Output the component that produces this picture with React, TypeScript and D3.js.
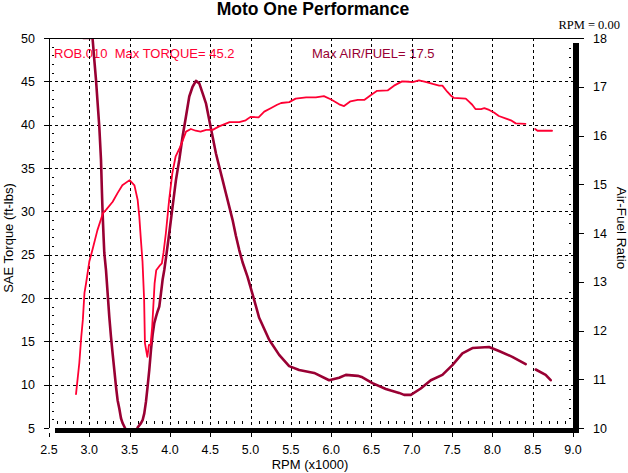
import React from "react";
import * as d3 from "d3";

const W = 628;
const H = 473;

const chartTitle = "Moto One Performance";
const leftAxisTitle = "SAE Torque (ft-lbs)";
const rightAxisTitle = "Air-Fuel Ratio";
const bottomAxisTitle = "RPM (x1000)";
const cursorText = "RPM = 0.00";
const torqueNote = "ROB.010  Max TORQUE= 45.2";
const afrNote = "Max AIR/FUEL= 17.5";

const xTicks = [2.5, 3.0, 3.5, 4.0, 4.5, 5.0, 5.5, 6.0, 6.5, 7.0, 7.5, 8.0, 8.5, 9.0];
const leftTicks = [5, 10, 15, 20, 25, 30, 35, 40, 45, 50];
const rightTicks = [10, 11, 12, 13, 14, 15, 16, 17, 18];

// [rpm x1000, SAE torque ft-lbs]
const torqueCurve: [number, number | null][] = [
  [2.835, 8.9], [2.876, 12.5], [2.9, 15.5], [2.92, 17.5], [2.94, 20.6], [2.96, 21.7],
  [3.0, 24.2], [3.04, 25.6], [3.1, 27.8], [3.17, 29.8], [3.21, 30.2], [3.29, 31.1],
  [3.35, 32.1], [3.41, 33.0], [3.5, 33.6], [3.56, 33.0], [3.6, 31.3], [3.62, 29.4],
  [3.64, 26.7], [3.66, 24.2], [3.68, 19.8], [3.69, 14.8], [3.72, 13.2], [3.74, 14.6],
  [3.76, 14.6], [3.78, 16.7], [3.81, 21.7], [3.83, 23.2], [3.87, 23.7], [3.9, 24.0],
  [3.92, 25.2], [3.95, 27.5], [3.99, 31.3], [4.03, 34.4], [4.07, 36.3], [4.12, 37.3],
  [4.16, 38.2], [4.2, 39.2], [4.26, 39.5], [4.32, 39.3], [4.38, 39.2], [4.45, 39.4],
  [4.53, 39.4], [4.61, 39.8], [4.74, 40.3], [4.86, 40.3], [4.94, 40.5], [5.0, 40.9],
  [5.1, 40.85], [5.17, 41.5], [5.25, 41.9], [5.33, 42.3], [5.38, 42.5], [5.48, 42.6],
  [5.56, 43.0], [5.69, 43.15], [5.81, 43.15], [5.91, 43.3], [6.0, 42.9], [6.1, 42.35],
  [6.16, 42.15], [6.24, 42.7], [6.33, 42.85], [6.41, 42.85], [6.49, 43.4], [6.57, 43.9],
  [6.7, 43.95], [6.78, 44.5], [6.88, 45.0], [6.97, 44.95], [7.01, 44.9], [7.09, 45.1],
  [7.17, 44.95], [7.26, 44.7], [7.34, 44.5], [7.38, 44.5], [7.44, 43.8], [7.48, 43.4],
  [7.52, 43.1], [7.67, 43.0], [7.71, 42.65], [7.75, 42.3], [7.79, 41.8], [7.86, 41.8],
  [7.9, 41.9], [7.96, 41.7], [8.02, 41.4], [8.08, 41.0], [8.17, 40.7], [8.23, 40.5],
  [8.29, 40.15], [8.41, 40.1], [8.47, null], [8.53, 39.5], [8.56, 39.3], [8.74, 39.3],
];

// [rpm x1000, air-fuel ratio]
const afrCurve: [number, number | null][] = [
  [2.926, 18.6], [3.04, 18.1], [3.062, 17.55], [3.083, 17.14], [3.103, 16.67], [3.124, 16.18],
  [3.145, 15.5], [3.157, 14.82], [3.165, 14.41], [3.177, 13.92], [3.186, 13.59], [3.207, 13.24],
  [3.227, 12.77], [3.248, 12.28], [3.269, 11.87], [3.289, 11.53], [3.31, 11.19], [3.331, 10.85],
  [3.351, 10.57], [3.372, 10.4], [3.393, 10.2], [3.413, 10.1], [3.434, 10.03], [3.5, 9.8],
  [3.58, 9.9], [3.599, 10.01], [3.641, 10.1], [3.661, 10.16], [3.682, 10.3], [3.703, 10.54],
  [3.723, 10.85], [3.744, 11.19], [3.765, 11.6], [3.785, 11.91], [3.806, 12.15], [3.827, 12.28],
  [3.847, 12.39], [3.868, 12.49], [3.889, 12.76], [3.909, 13.04], [3.93, 13.24], [3.951, 13.49],
  [3.992, 14.0], [4.033, 14.54], [4.075, 15.09], [4.116, 15.5], [4.157, 15.98], [4.199, 16.39],
  [4.24, 16.8], [4.281, 17.0], [4.323, 17.12], [4.364, 17.07], [4.405, 16.87], [4.447, 16.66],
  [4.488, 16.32], [4.529, 15.98], [4.571, 15.63], [4.612, 15.36], [4.653, 15.09], [4.695, 14.81],
  [4.736, 14.54], [4.777, 14.27], [4.819, 13.94], [4.86, 13.65], [4.901, 13.4], [4.963, 13.1],
  [5.045, 12.63], [5.107, 12.26], [5.231, 11.81], [5.355, 11.5], [5.479, 11.27], [5.603, 11.19],
  [5.789, 11.13], [5.975, 10.98], [6.099, 11.03], [6.182, 11.09], [6.33, 11.07], [6.388, 11.04],
  [6.512, 10.92], [6.678, 10.8], [6.843, 10.72], [6.905, 10.68], [6.988, 10.68], [7.112, 10.81],
  [7.236, 10.98], [7.38, 11.09], [7.504, 11.29], [7.628, 11.53], [7.752, 11.64], [7.958, 11.66],
  [8.082, 11.58], [8.247, 11.46], [8.413, 11.31], [8.47, null], [8.537, 11.2], [8.661, 11.09],
  [8.723, 10.98],
];

const torqueColor = "#ff0033";
const afrColor = "#990033";
const font = "'Liberation Sans', Arial, sans-serif";

export default function App() {
  const left = 49;
  const right = 573;
  const top = 38;
  const bottom = 428;

  const x = d3.scaleLinear().domain([2.5, 9.0]).range([left, right]);
  const yL = d3.scaleLinear().domain([5, 50]).range([bottom, top]);
  const yR = d3.scaleLinear().domain([10, 18]).range([bottom, top]);
  const afrMax = yR.domain()[1];

  const torqueLine = d3
    .line<[number, number | null]>()
    .defined((d) => d[1] !== null)
    .x((d) => x(d[0]))
    .y((d) => yL(d[1] as number));
  // values above the top of the scale are pinned to the top edge (like the original)
  const afrLine = d3
    .line<[number, number | null]>()
    .defined((d) => d[1] !== null)
    .x((d) => x(d[0]))
    .y((d) => yR(Math.min(d[1] as number, afrMax)));

  const px = (v: number) => Math.round(v) + 0.5;

  const xMinor = d3.range(26, 90).map((i) => i / 10).filter((v) => Math.abs(v * 2 - Math.round(v * 2)) > 1e-6);
  const leftMinor = d3.range(6, 50).filter((v) => v % 5 !== 0);
  const rightMinor = d3.range(50, 90).map((i) => i / 5).filter((v) => Math.abs(v - Math.round(v)) > 1e-6);

  return (
    <svg
      width={W}
      height={H}
      viewBox={`0 0 ${W} ${H}`}
      style={{ position: "absolute", left: 0, top: 0, background: "#fff" }}
      fontFamily={font}
    >
      <rect x={0} y={0} width={W} height={H} fill="#fff" />
      <defs>
        <clipPath id="plotClip">
          <rect x={left} y={top} width={right - left} height={bottom - top} />
        </clipPath>
      </defs>

      {/* title & notes */}
      <text x={313} y={15} textAnchor="middle" fontSize={17.5} fontWeight="bold" fill="#000">
        {chartTitle}
      </text>
      <text x={620} y={29} textAnchor="end" fontSize={12.5} fontFamily="'Liberation Serif', 'Times New Roman', serif" fill="#000">
        {cursorText}
      </text>
      <text x={54} y={58} fontSize={13} fill={torqueColor} style={{ whiteSpace: "pre" }}>
        {torqueNote}
      </text>
      <text x={312} y={58} fontSize={13} fill={afrColor}>
        {afrNote}
      </text>

      {/* grid */}
      <g stroke="#000" strokeWidth={1} strokeDasharray="3,3" shapeRendering="crispEdges">
        {xTicks.slice(1, -1).map((t) => (
          <line key={"gx" + t} x1={px(x(t))} x2={px(x(t))} y1={top} y2={bottom} />
        ))}
        {leftTicks.slice(1, -1).map((t) => (
          <line key={"gy" + t} x1={left} x2={right} y1={px(yL(t))} y2={px(yL(t))} />
        ))}
      </g>

      {/* minor ticks */}
      <g stroke="#000" strokeWidth={1} shapeRendering="crispEdges">
        {xMinor.map((t) => (
          <line key={"xm" + t} x1={px(x(t))} x2={px(x(t))} y1={421} y2={424} />
        ))}
        {leftMinor.map((t) => (
          <line key={"lm" + t} x1={52} x2={54} y1={px(yL(t))} y2={px(yL(t))} />
        ))}
        {rightMinor.map((t) => (
          <line key={"rm" + t} x1={569} x2={571} y1={px(yR(t))} y2={px(yR(t))} />
        ))}
      </g>

      {/* data lines */}
      <g clipPath="url(#plotClip)" fill="none" strokeLinejoin="round" strokeLinecap="round">
        <path d={afrLine(afrCurve) || ""} stroke={afrColor} strokeWidth={2.6} />
        <path d={torqueLine(torqueCurve) || ""} stroke={torqueColor} strokeWidth={1.8} />
      </g>

      {/* frame */}
      <g shapeRendering="crispEdges">
        <line x1={left} x2={right + 6} y1={top + 0.5} y2={top + 0.5} stroke="#000" />
        <line x1={left + 0.5} x2={left + 0.5} y1={top} y2={bottom} stroke="#000" />
        <rect x={55} y={bottom} width={right + 6 - 55} height={5} fill="#000" />
        <rect x={right} y={top + 5} width={6} height={bottom + 5 - top - 5} fill="#000" />
      </g>

      {/* major ticks */}
      <g stroke="#000" strokeWidth={1} shapeRendering="crispEdges">
        {xTicks.map((t) => (
          <line key={"xt" + t} x1={px(x(t))} x2={px(x(t))} y1={433} y2={437} />
        ))}
        {leftTicks.map((t) => (
          <line key={"lt" + t} x1={44} x2={49} y1={px(yL(t))} y2={px(yL(t))} />
        ))}
        {rightTicks.map((t) => (
          <line key={"rt" + t} x1={579} x2={584} y1={px(yR(t))} y2={px(yR(t))} />
        ))}
      </g>

      {/* tick labels */}
      <g fontSize={12.5} fill="#000">
        {xTicks.map((t) => (
          <text key={"xl" + t} x={x(t)} y={454} textAnchor="middle">
            {t.toFixed(1)}
          </text>
        ))}
        {leftTicks.map((t) => (
          <text key={"ll" + t} x={35} y={yL(t) + 4.5} textAnchor="end">
            {t}
          </text>
        ))}
        {rightTicks.map((t) => (
          <text key={"rl" + t} x={593} y={yR(t) + 4.5} textAnchor="start">
            {t}
          </text>
        ))}
      </g>

      {/* axis titles */}
      <text x={310} y={469} textAnchor="middle" fontSize={13} fill="#000">
        {bottomAxisTitle}
      </text>
      <text transform="translate(13,238) rotate(-90)" textAnchor="middle" fontSize={13} fill="#000">
        {leftAxisTitle}
      </text>
      <text transform="translate(617,228) rotate(90)" textAnchor="middle" fontSize={13.5} fill="#000">
        {rightAxisTitle}
      </text>
    </svg>
  );
}
